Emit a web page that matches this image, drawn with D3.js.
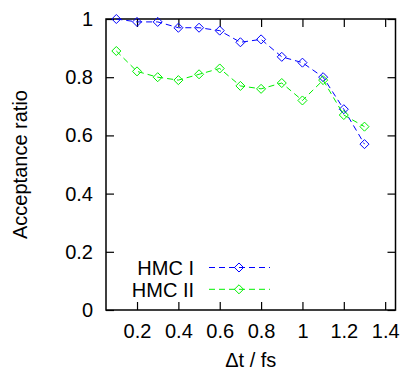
<!DOCTYPE html>
<html>
<head>
<meta charset="utf-8">
<script src="https://cdn.jsdelivr.net/npm/d3@7"></script>
<style>
  body { margin: 0; background: #fff; }
  svg text { font-family: "Liberation Sans", Arial, sans-serif; font-size: 20px; fill: #000; }
</style>
</head>
<body>
<svg id="chart" width="405" height="371"></svg>
<script>
// time step values (fs)
const dt = [0.1, 0.2, 0.3, 0.4, 0.5, 0.6, 0.7, 0.8, 0.9, 1.0, 1.1, 1.2, 1.3];
const hmc1 = [1.00, 0.99, 0.99, 0.97, 0.97, 0.96, 0.92, 0.93, 0.87, 0.85, 0.80, 0.69, 0.57];
const hmc2 = [0.89, 0.82, 0.80, 0.79, 0.81, 0.83, 0.77, 0.76, 0.78, 0.72, 0.79, 0.67, 0.63];
const xTicks = [0.2, 0.4, 0.6, 0.8, 1.0, 1.2, 1.4];
const yTicks = [0, 0.2, 0.4, 0.6, 0.8, 1.0];
const seriesNames = ['HMC I', 'HMC II'];
const seriesColors = ['#0000ff', '#00f000'];

const margin = { left: 106, right: 9.5, top: 19, bottom: 61 };
const svg = d3.select('#chart');
const width = +svg.attr('width');
const height = +svg.attr('height');
const innerWidth = width - margin.left - margin.right;
const innerHeight = height - margin.top - margin.bottom;

const x = d3.scaleLinear().domain([0.05, 1.45]).range([0, innerWidth]);
const y = d3.scaleLinear().domain([0, 1]).range([innerHeight, 0]);

const g = svg.append('g')
  .attr('transform', `translate(${margin.left},${margin.top})`);

const fmt = d => (d === 0 || d === 1) ? String(d) : d3.format('.1f')(d);
const tickLen = 8;

// axes, ticks pointing inward on all four sides
const axBottom = g.append('g').attr('transform', `translate(0,${innerHeight})`)
  .call(d3.axisBottom(x).tickValues(xTicks).tickSize(-tickLen).tickPadding(13.5).tickFormat(fmt));
const axTop = g.append('g')
  .call(d3.axisTop(x).tickValues(xTicks).tickSize(-tickLen).tickFormat(''));
const axLeft = g.append('g')
  .call(d3.axisLeft(y).tickValues(yTicks).tickSize(-tickLen).tickPadding(13).tickFormat(fmt));
const axRight = g.append('g').attr('transform', `translate(${innerWidth},0)`)
  .call(d3.axisRight(y).tickValues(yTicks).tickSize(-tickLen).tickFormat(''));

axTop.selectAll('text').remove();
axRight.selectAll('text').remove();
[axBottom, axTop, axLeft, axRight].forEach(a => {
  a.attr('font-size', 20).attr('font-family', '"Liberation Sans", Arial, sans-serif');
  a.select('.domain').remove();
  a.selectAll('line').attr('stroke', '#000').attr('stroke-width', 1.2);
});

g.append('rect')
  .attr('width', innerWidth).attr('height', innerHeight)
  .attr('fill', 'none').attr('stroke', '#000').attr('stroke-width', 1.5);

// axis titles
svg.append('text')
  .attr('x', margin.left + innerWidth / 2).attr('y', 367)
  .attr('text-anchor', 'middle')
  .text('\u0394t / fs');

svg.append('text')
  .attr('transform', `translate(27,${margin.top + innerHeight / 2}) rotate(-90)`)
  .attr('text-anchor', 'middle')
  .text('Acceptance ratio');

const diamond = d3.symbol().type(d3.symbolDiamond2).size(52);
const line = d3.line().x(d => x(d[0])).y(d => y(d[1]));

const series = [hmc1, hmc2];
series.forEach((vals, i) => {
  const pts = dt.map((t, j) => [t, vals[j]]);
  g.append('path')
    .datum(pts)
    .attr('d', line)
    .attr('fill', 'none')
    .attr('stroke', seriesColors[i])
    .attr('stroke-width', 1)
    .attr('stroke-dasharray', '6,4');
  g.selectAll('.pt' + i).data(pts)
    .enter().append('path')
    .attr('class', 'pt' + i)
    .attr('d', diamond)
    .attr('transform', d => `translate(${x(d[0])},${y(d[1])})`)
    .attr('fill', 'none')
    .attr('stroke', seriesColors[i])
    .attr('stroke-width', 1);
});

// legend
const legend = svg.append('g');
seriesNames.forEach((name, i) => {
  const ly = 267.5 + i * 21.8;
  legend.append('text')
    .attr('x', 194).attr('y', ly + 7.5)
    .attr('text-anchor', 'end')
    .text(name);
  legend.append('line')
    .attr('x1', 209).attr('x2', 270)
    .attr('y1', ly).attr('y2', ly)
    .attr('stroke', seriesColors[i])
    .attr('stroke-width', 1)
    .attr('stroke-dasharray', '6,4');
  legend.append('path')
    .attr('d', diamond)
    .attr('transform', `translate(239,${ly})`)
    .attr('fill', 'none')
    .attr('stroke', seriesColors[i])
    .attr('stroke-width', 1);
});
</script>
</body>
</html>
